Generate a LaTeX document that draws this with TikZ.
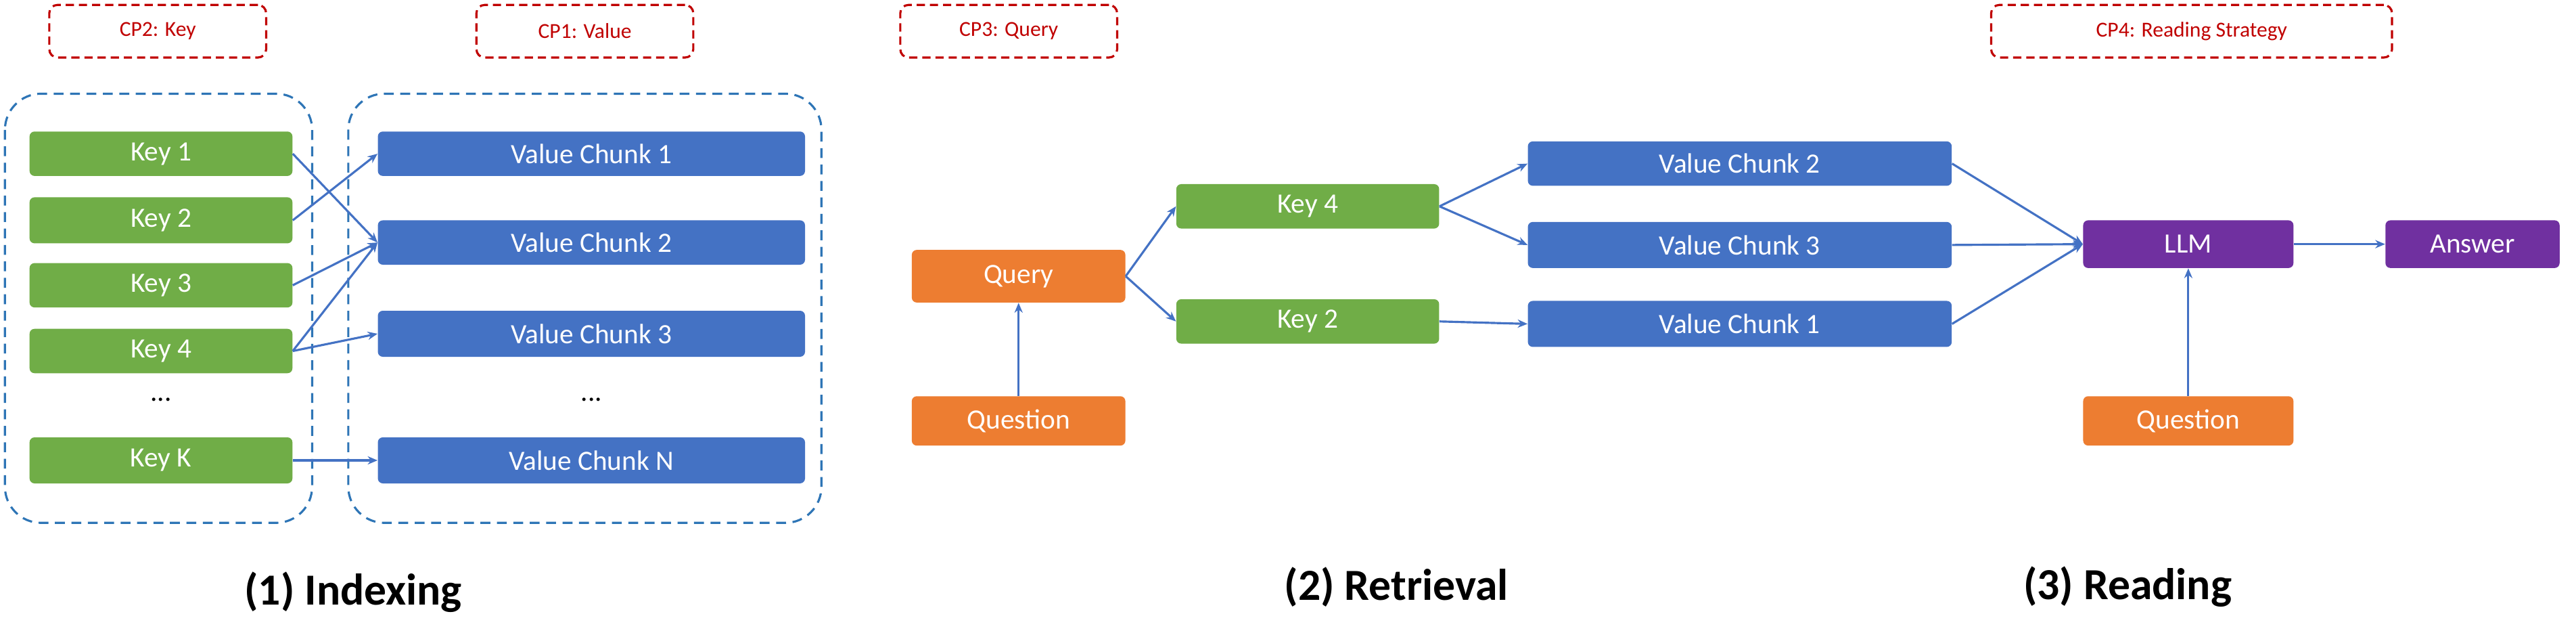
\documentclass[tikz,border=0pt]{standalone}
\usepackage{fontspec}
\setmainfont{Carlito}
\usetikzlibrary{arrows.meta}
\definecolor{kg}{HTML}{70AD47}
\definecolor{vb}{HTML}{4472C4}
\definecolor{og}{HTML}{ED7D31}
\definecolor{pp}{HTML}{7030A0}
\definecolor{rd}{HTML}{C00000}
\definecolor{gb}{HTML}{2E75B6}
\begin{document}
\begin{tikzpicture}[x=1pt,y=-1pt,
 box/.style={rounded corners=3pt,text=white,font=\fontsize{17}{17}\selectfont,inner sep=0pt},
 cp/.style={draw=rd,dashed,line width=1.3pt,dash pattern=on 5pt off 3pt,rounded corners=5pt,text=rd,font=\fontsize{13}{13}\selectfont,inner sep=0pt},
 grp/.style={draw=gb,line width=1.3pt,dash pattern=on 6pt off 4pt,rounded corners=22pt},
 ar/.style={draw=vb,line width=1.3pt,-{Stealth[length=6pt,width=5pt]}},
 ttl/.style={font=\fontsize{27}{27}\selectfont\bfseries}]
\useasboundingbox (0,0) rectangle (1568,385);
\def\bx#1#2#3#4#5#6#7{\node[box,fill=#7,minimum width=#4-#2,minimum height=#5-#3] (#1) at ({(#2+#4)/2},{(#3+#5)/2}) {#6};}
\def\cpb#1#2#3#4{\node[cp,minimum width=#3-#2,minimum height=32] (#1) at ({(#2+#3)/2},19) {#4};}
\cpb{cp2}{30}{162}{CP2: Key}
\cpb{cp1}{290}{422}{CP1: Value}
\cpb{cp3}{548}{680}{CP3: Query}
\cpb{cp4}{1212}{1456}{CP4: Reading Strategy}
\draw[grp] (3,57) rectangle (190,318);
\draw[grp] (212,57) rectangle (500,318);
\bx{k1}{18}{80}{178}{107}{Key 1}{kg}
\bx{k2}{18}{120}{178}{148}{Key 2}{kg}
\bx{k3}{18}{160}{178}{187}{Key 3}{kg}
\bx{k4}{18}{200}{178}{227}{Key 4}{kg}
\bx{kk}{18}{266}{178}{294}{Key K}{kg}
\node[font=\fontsize{17}{17}\selectfont] (kd) at (98,243) {...};
\bx{v1}{230}{80}{490}{107}{Value Chunk 1}{vb}
\bx{v2}{230}{134}{490}{161}{Value Chunk 2}{vb}
\bx{v3}{230}{189}{490}{217}{Value Chunk 3}{vb}
\bx{vn}{230}{266}{490}{294}{Value Chunk N}{vb}
\node[font=\fontsize{17}{17}\selectfont] (vd) at (360,243) {...};
\draw[ar] (k1.east) -- (v2.west);
\draw[ar] (k2.east) -- (v1.west);
\draw[ar] (k3.east) -- (v2.west);
\draw[ar] (k4.east) -- (v2.west);
\draw[ar] (k4.east) -- (v3.west);
\draw[ar] (kk.east) -- (vn.west);
\node[ttl] (t1) at (215,360) {(1) Indexing};
\bx{q}{555}{152}{685}{184}{Query}{og}
\bx{qu}{555}{241}{685}{271}{Question}{og}
\bx{rk4}{716}{112}{876}{139}{Key 4}{kg}
\bx{rk2}{716}{182}{876}{209}{Key 2}{kg}
\bx{rv2}{930}{86}{1188}{113}{Value Chunk 2}{vb}
\bx{rv3}{930}{135}{1188}{163}{Value Chunk 3}{vb}
\bx{rv1}{930}{183}{1188}{211}{Value Chunk 1}{vb}
\bx{llm}{1268}{134}{1396}{163}{LLM}{pp}
\bx{ans}{1452}{134}{1558}{163}{Answer}{pp}
\bx{qu2}{1268}{241}{1396}{271}{Question}{og}
\draw[ar] (qu.north) -- (q.south);
\draw[ar] (q.east) -- (rk4.west);
\draw[ar] (q.east) -- (rk2.west);
\draw[ar] (rk4.east) -- (rv2.west);
\draw[ar] (rk4.east) -- (rv3.west);
\draw[ar] (rk2.east) -- (rv1.west);
\draw[ar] (rv2.east) -- (llm.west);
\draw[ar] (rv3.east) -- (llm.west);
\draw[ar] (rv1.east) -- (llm.west);
\draw[ar] (qu2.north) -- (llm.south);
\draw[ar] (llm.east) -- (ans.west);
\node[ttl] (t2) at (850,357) {(2) Retrieval};
\node[ttl] (t3) at (1295,357) {(3) Reading};
\end{tikzpicture}
\end{document}
